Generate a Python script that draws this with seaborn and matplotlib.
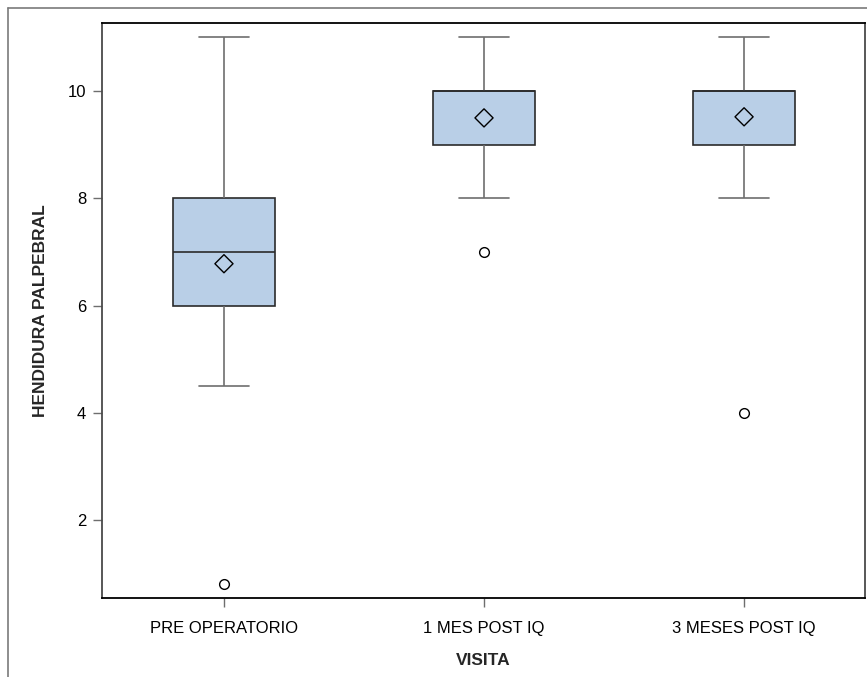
import numpy as np
import pandas as pd
import matplotlib
matplotlib.use("Agg")
import matplotlib.pyplot as plt
from matplotlib.lines import Line2D
import seaborn as sns

categories = ["PRE OPERATORIO", "1 MES POST IQ", "3 MESES POST IQ"]
pre_values = [0.8, 4.5, 6, 6, 7, 7, 8, 8, 11]
mes1_values = [7, 8, 9, 9, 10, 10, 10, 10, 11]
mes3_values = [4, 8, 9, 9, 10, 10, 10, 10, 11]
mean_values = [6.78, 9.5, 9.52]
y_ticks = [2, 4, 6, 8, 10]

sns.set_style("white")
plt.rcParams["font.family"] = ["Liberation Sans", "DejaVu Sans"]

df = pd.DataFrame({
    "VISITA": [categories[0]] * len(pre_values) + [categories[1]] * len(mes1_values) + [categories[2]] * len(mes3_values),
    "HENDIDURA PALPEBRAL": pre_values + mes1_values + mes3_values,
})

fig = plt.figure(figsize=(8.67, 6.77), dpi=100)
ax = fig.add_axes([102 / 867, 1 - 598 / 677, (865 - 102) / 867, (598 - 23) / 677])

sns.boxplot(
    data=df, x="VISITA", y="HENDIDURA PALPEBRAL", order=categories, ax=ax,
    color="#B9CFE7", width=0.39, whis=1.5, saturation=1,
    boxprops=dict(facecolor="#B9CFE7", edgecolor="#2b2b2b", linewidth=1.2),
    medianprops=dict(color="#2b2b2b", linewidth=1.2),
    whiskerprops=dict(color="#6e6e6e", linewidth=1.2),
    capprops=dict(color="#6e6e6e", linewidth=1.2),
    flierprops=dict(marker="o", markerfacecolor="white", markeredgecolor="black",
                    markersize=7, markeredgewidth=1.0),
)

mean_df = pd.DataFrame({"VISITA": categories, "mean": mean_values})
sns.scatterplot(data=mean_df, x="VISITA", y="mean", ax=ax, marker="D", s=85,
                facecolor="none", edgecolor="black", linewidth=1.0, zorder=5, legend=False)

ax.set_xlim(-0.469, 2.465)
ax.set_ylim(0.545, 11.27)
ax.set_yticks(y_ticks)
ax.set_yticklabels([str(t) for t in y_ticks])
ax.tick_params(axis="both", direction="out", length=6.5, width=1, color="#6e6e6e",
               labelsize=12, labelcolor="black", left=True, bottom=True, pad=5)
ax.tick_params(axis="x", pad=10)

ax.set_xlabel("VISITA", fontsize=12.5, fontweight="bold", labelpad=12)
ax.set_ylabel("HENDIDURA PALPEBRAL", fontsize=12.5, fontweight="bold", labelpad=14)

for side in ["top", "bottom"]:
    ax.spines[side].set_color("black")
    ax.spines[side].set_linewidth(1.3)
for side in ["left", "right"]:
    ax.spines[side].set_color("#4a4a4a")
    ax.spines[side].set_linewidth(1.3)

# outer frame
fig.add_artist(Line2D([8 / 867, 1.0], [1 - 8 / 677, 1 - 8 / 677], color="#7a7a7a", linewidth=1.2,
                      transform=fig.transFigure))
fig.add_artist(Line2D([8 / 867, 8 / 867], [0.0, 1 - 8 / 677], color="#7a7a7a", linewidth=1.2,
                      transform=fig.transFigure))

fig.savefig("out.png", dpi=100)
